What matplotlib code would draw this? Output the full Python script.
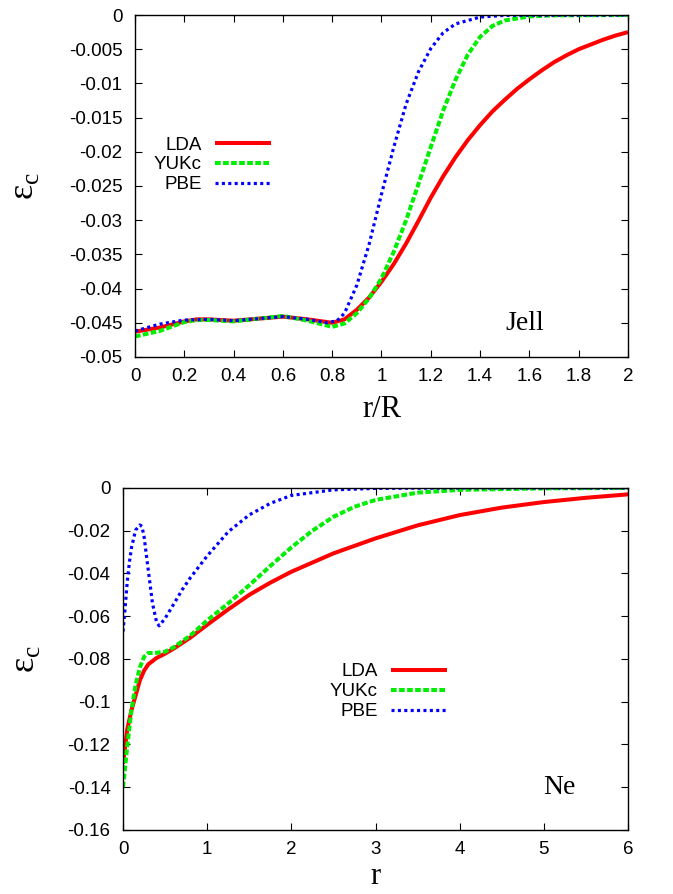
import numpy as np
import matplotlib
matplotlib.use("Agg")
import matplotlib.pyplot as plt

# Jellium panel (r/R)
jell_r_lda = [0, 0.1, 0.2, 0.25, 0.3, 0.4, 0.5, 0.6, 0.7, 0.8, 0.85, 0.9, 0.95, 1.0, 1.05, 1.1,
              1.15, 1.2, 1.25, 1.3, 1.35, 1.4, 1.45, 1.5, 1.55, 1.6, 1.65, 1.7, 1.75, 1.8, 1.85,
              1.9, 1.95, 2.0]
jell_lda = [-0.0463, -0.0457, -0.0448, -0.0445, -0.0445, -0.0447, -0.0444, -0.0441, -0.0445, -0.0450,
            -0.0445, -0.0431, -0.0413, -0.0390, -0.0364, -0.0334, -0.0301, -0.0267, -0.0236, -0.0208,
            -0.0183, -0.0161, -0.0141, -0.0124, -0.0108, -0.0094, -0.0081, -0.0069, -0.0059, -0.0050,
            -0.0043, -0.0036, -0.0030, -0.0025]
jell_r_yuk = [0, 0.1, 0.2, 0.25, 0.3, 0.4, 0.5, 0.6, 0.7, 0.8, 0.85, 0.9, 0.95, 1.0, 1.05, 1.1,
              1.15, 1.2, 1.25, 1.3, 1.35, 1.4, 1.45, 1.5, 1.6, 1.7, 2.0]
jell_yuk = [-0.0470, -0.0462, -0.0449, -0.0446, -0.0446, -0.0448, -0.0444, -0.0440, -0.0447, -0.0456,
            -0.0451, -0.0436, -0.0414, -0.0385, -0.0346, -0.0300, -0.0247, -0.0193, -0.0140, -0.0095,
            -0.0058, -0.0032, -0.0016, -0.0008, -0.0002, -0.00005, 0.0]
jell_r_pbe = [0, 0.1, 0.2, 0.3, 0.4, 0.5, 0.6, 0.7, 0.78, 0.82, 0.85, 0.9, 0.95, 1.0, 1.05, 1.1,
              1.15, 1.2, 1.25, 1.3, 1.4, 1.5, 2.0]
jell_pbe = [-0.0462, -0.0452, -0.0446, -0.0445, -0.0447, -0.0444, -0.0441, -0.0445, -0.0450, -0.0447,
            -0.0436, -0.0395, -0.0335, -0.0262, -0.0193, -0.0130, -0.0083, -0.0049, -0.0026, -0.0013,
            -0.0003, -0.00005, 0.0]

# Ne atom panel (r)
ne_r_lda = [0, 0.05, 0.1, 0.15, 0.2, 0.25, 0.3, 0.4, 0.5, 0.6, 0.8, 1.0, 1.25, 1.5, 1.75, 2.0, 2.5,
            3.0, 3.5, 4.0, 4.5, 5.0, 5.5, 6.0]
ne_lda = [-0.129, -0.113, -0.104, -0.097, -0.090, -0.0855, -0.0825, -0.0795, -0.0775, -0.0752, -0.0700,
          -0.0640, -0.0568, -0.0500, -0.0443, -0.0392, -0.0306, -0.0236, -0.0175, -0.0127, -0.0092,
          -0.0066, -0.0046, -0.0030]
ne_r_yuk = [0, 0.05, 0.1, 0.15, 0.2, 0.25, 0.3, 0.4, 0.5, 0.6, 0.8, 1.0, 1.25, 1.5, 1.75, 2.0, 2.25,
            2.5, 2.75, 3.0, 3.5, 4.0, 5.0, 6.0]
ne_yuk = [-0.140, -0.121, -0.104, -0.092, -0.084, -0.079, -0.0772, -0.0771, -0.0766, -0.0746, -0.0690,
          -0.0620, -0.0540, -0.0455, -0.0365, -0.0278, -0.0200, -0.0135, -0.0088, -0.0056, -0.0022,
          -0.0009, -0.0002, 0.0]
ne_r_pbe = [0, 0.025, 0.05, 0.075, 0.1, 0.15, 0.2, 0.225, 0.25, 0.3, 0.35, 0.4, 0.43, 0.5, 0.6, 0.7,
            0.8, 1.0, 1.25, 1.5, 1.75, 2.0, 2.5, 3.0, 4.0, 6.0]
ne_pbe = [-0.0672, -0.056, -0.044, -0.035, -0.028, -0.0197, -0.0173, -0.0180, -0.0228, -0.0384, -0.0540,
          -0.0630, -0.0645, -0.0610, -0.0545, -0.0478, -0.0420, -0.0318, -0.0205, -0.0126, -0.0072,
          -0.0035, -0.0009, -0.0002, 0.0, 0.0]

labels = ["LDA", "YUKc", "PBE"]

sans = "Liberation Sans"
serif = "Liberation Serif"
plt.rcParams["font.family"] = sans

fig = plt.figure(figsize=(6.73, 8.94), dpi=100)
ax1 = fig.add_axes([0.2006, 0.6007, 0.7325, 0.3825])
ax2 = fig.add_axes([0.1828, 0.0716, 0.7504, 0.3826])


def draw(ax, r1, y1, r2, y2, r3, y3):
    ax.plot(r1, y1, color="#ff0000", lw=2.9, label=labels[0], solid_capstyle="butt")
    ax.plot(r2, y2, color="#00ee00", lw=2.9, ls=(0, (1.4, 0.6)), label=labels[1], dash_capstyle="butt")
    ax.plot(r3, y3, color="#0000ff", lw=2.3, ls=(0, (0.95, 1.05)), label=labels[2], dash_capstyle="butt")
    ax.tick_params(direction="in", length=5, width=0.8, top=True, right=True, labelsize=13.5)
    ax.tick_params(axis="y", pad=9)
    ax.tick_params(axis="x", pad=8)
    for s in ax.spines.values():
        s.set_linewidth(1.0)
    ax.set_ylabel("ε$_\\mathregular{c}$", fontfamily=serif, fontsize=26)


draw(ax1, jell_r_lda, jell_lda, jell_r_yuk, jell_yuk, jell_r_pbe, jell_pbe)
ax1.set_xlim(0, 2)
ax1.set_ylim(-0.05, 0)
ax1.set_xticks(np.arange(0, 2.01, 0.2))
ax1.set_xticklabels(["0", "0.2", "0.4", "0.6", "0.8", "1", "1.2", "1.4", "1.6", "1.8", "2"])
ax1.set_yticks(np.arange(-0.05, 0.0001, 0.005))
ax1.set_yticklabels(["-0.05", "-0.045", "-0.04", "-0.035", "-0.03", "-0.025", "-0.02", "-0.015",
                     "-0.01", "-0.005", "0"])
ax1.yaxis.set_label_coords(-0.19, 0.5)
ax1.set_xlabel("r/R", fontfamily=serif, fontsize=22, labelpad=7)
ax1.text(1.583, -0.0451, "Jell", fontfamily=serif, fontsize=20, ha="center", va="center")
ax1.legend(loc="upper right", bbox_to_anchor=(0.276, 0.645), frameon=False, markerfirst=False,
           fontsize=13.5, handlelength=3.0, handletextpad=0.7, labelspacing=0.15,
           borderpad=0, borderaxespad=0)

draw(ax2, ne_r_lda, ne_lda, ne_r_yuk, ne_yuk, ne_r_pbe, ne_pbe)
ax2.set_xlim(0, 6)
ax2.set_ylim(-0.16, 0)
ax2.set_xticks(range(0, 7))
ax2.set_yticks(np.arange(-0.16, 0.0001, 0.02))
ax2.set_yticklabels(["-0.16", "-0.14", "-0.12", "-0.1", "-0.08", "-0.06", "-0.04", "-0.02", "0"])
ax2.yaxis.set_label_coords(-0.16, 0.5)
ax2.set_xlabel("r", fontfamily=serif, fontsize=22, labelpad=3)
ax2.text(5.19, -0.140, "Ne", fontfamily=serif, fontsize=20, ha="center", va="center")
ax2.legend(loc="upper right", bbox_to_anchor=(0.642, 0.488), frameon=False, markerfirst=False,
           fontsize=13.5, handlelength=3.0, handletextpad=0.7, labelspacing=0.15,
           borderpad=0, borderaxespad=0)

fig.savefig("out.png", dpi=100)
